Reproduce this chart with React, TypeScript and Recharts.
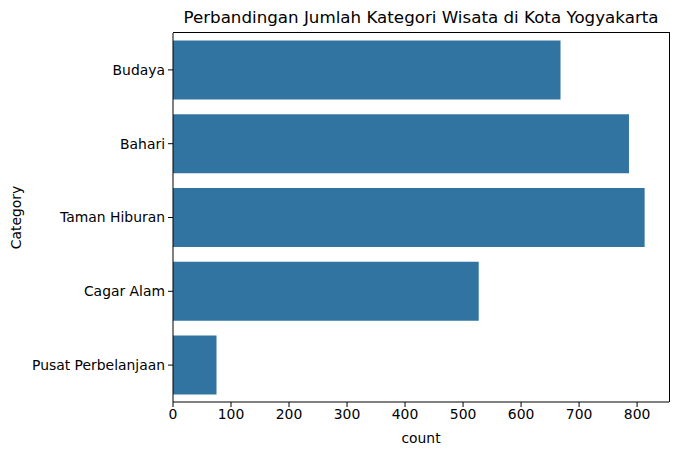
import React from 'react';
import { BarChart, Bar, XAxis, YAxis } from 'recharts';

const categories = ['Budaya', 'Bahari', 'Taman Hiburan', 'Cagar Alam', 'Pusat Perbelanjaan'];
const counts = [668, 786, 813, 527, 75];
const xTicks = [0, 100, 200, 300, 400, 500, 600, 700, 800];

const data = categories.map((name, i) => ({ name, count: counts[i] }));

const FONT = '"DejaVu Sans", sans-serif';
const tickStyle = { fontSize: 13.9, fill: '#000', fontFamily: FONT };

// plot box in px (matches the chart margins below)
const PLOT = { left: 173, top: 33, width: 496, height: 369 };

const App: React.FC = () => {
  return (
    <div style={{ position: 'absolute', left: 0, top: 0, width: 678, height: 455, background: '#fff', fontFamily: FONT }}>
      <div
        style={{
          position: 'absolute',
          left: PLOT.left,
          width: PLOT.width,
          top: 6,
          lineHeight: '22px',
          fontSize: 16.7,
          textAlign: 'center',
          color: '#000',
        }}
      >
        Perbandingan Jumlah Kategori Wisata di Kota Yogyakarta
      </div>
      <BarChart
        width={678}
        height={455}
        data={data}
        layout="vertical"
        margin={{ top: PLOT.top, right: 678 - PLOT.left - PLOT.width, left: 0, bottom: 0 }}
        barCategoryGap="10%"
      >
        <XAxis
          type="number"
          dataKey="count"
          domain={[0, 855]}
          ticks={xTicks}
          height={455 - PLOT.top - PLOT.height}
          stroke="#000"
          tick={tickStyle}
          tickSize={5}
          tickMargin={2}
          label={{ value: 'count', position: 'insideBottom', offset: 12, fontSize: 13.9, fill: '#000', fontFamily: FONT }}
        />
        <YAxis
          type="category"
          dataKey="name"
          width={PLOT.left}
          stroke="#000"
          tick={tickStyle}
          tickSize={5}
          tickMargin={3}
          label={{ value: 'Category', angle: -90, position: 'insideLeft', offset: 16, fontSize: 13.9, fill: '#000', fontFamily: FONT, style: { textAnchor: 'middle' } }}
        />
        <Bar dataKey="count" fill="#3274a1" isAnimationActive={false} />
      </BarChart>
      {/* top and right spines of the axes frame */}
      <div
        style={{
          position: 'absolute',
          left: PLOT.left,
          top: PLOT.top - 1,
          width: PLOT.width,
          height: PLOT.height,
          borderTop: '1px solid #000',
          borderRight: '1px solid #000',
          pointerEvents: 'none',
        }}
      />
    </div>
  );
};

export default App;
